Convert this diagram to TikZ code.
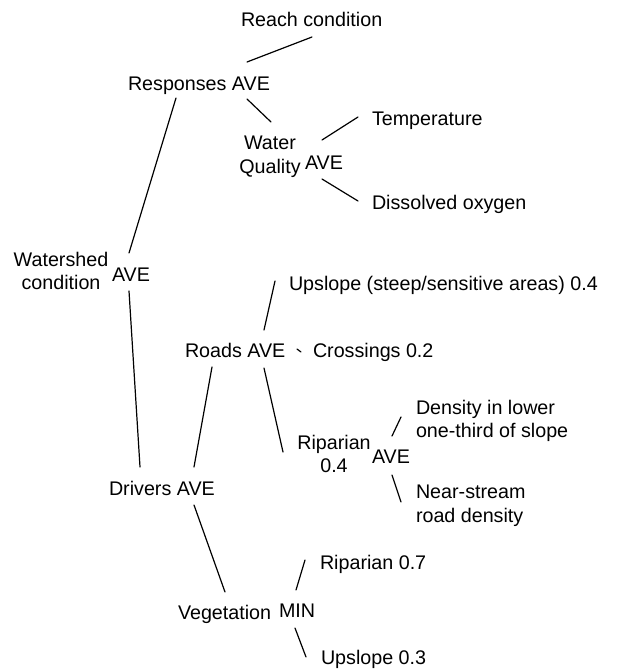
\documentclass[tikz,border=0pt]{standalone}
\usepackage{fontspec}
\setmainfont{Liberation Sans}
\begin{document}
\begin{tikzpicture}[x=1pt,y=-1pt,
  lbl/.style={inner sep=0pt,outer sep=0pt,font=\fontsize{19.7}{23.5}\selectfont,anchor=base west},
  lbl2/.style={lbl,anchor=north,align=center},
  lbl2l/.style={lbl,anchor=north west,align=left},
  conn/.style={line width=1.2pt,line cap=round}]
\useasboundingbox (0,0) rectangle (618,669);
% nodes
\node[lbl] (reach) at (241,27) {Reach condition};
\node[lbl] (resp) at (128,90) {Responses AVE};
\node[lbl2] (wq) at (270,136) {Water\\Quality};
\node[lbl] (wqave) at (305,169) {AVE};
\node[lbl] (temp) at (372,125) {Temperature};
\node[lbl] (diss) at (372,209) {Dissolved oxygen};
\node[lbl2] (ws) at (61,252) {Watershed\\condition};
\node[lbl] (wsave) at (112,281) {AVE};
\node[lbl] (up04) at (289,290) {Upslope (steep/sensitive areas) 0.4};
\node[lbl] (roads) at (185,357) {Roads AVE};
\node[lbl] (cross) at (313,357) {Crossings 0.2};
\node[lbl2l] (dens) at (416,400) {Density in lower\\one-third of slope};
\node[lbl2] (rip) at (334,435) {Riparian\\0.4};
\node[lbl] (ripave) at (372,463) {AVE};
\node[lbl2l] (near) at (416,485) {Near-stream\\road density};
\node[lbl] (drivers) at (109,495) {Drivers AVE};
\node[lbl] (rip07) at (320,569) {Riparian 0.7};
\node[lbl] (veg) at (178,619) {Vegetation};
\node[lbl] (vegmin) at (279,617) {MIN};
\node[lbl] (up03) at (321,664) {Upslope 0.3};
% connector ends
\coordinate (reach-b) at (312,37);  \coordinate (resp-t) at (247,62);
\coordinate (resp-br) at (247,99);  \coordinate (wq-t) at (271,122);
\coordinate (resp-bl) at (176,98);  \coordinate (ws-t) at (129,253);
\coordinate (wq-r1) at (322,140);   \coordinate (temp-l) at (358,117);
\coordinate (wq-r2) at (322,179);   \coordinate (diss-l) at (358,201);
\coordinate (ws-b) at (129,291);    \coordinate (drivers-t1) at (140,467);
\coordinate (roads-t) at (264,330); \coordinate (up04-l) at (275,281);
\coordinate (roads-r) at (297,349); \coordinate (cross-l) at (301,352);
\coordinate (roads-bl) at (212,367);\coordinate (drivers-t2) at (194,467);
\coordinate (roads-br) at (264,368);\coordinate (rip-t) at (283,452);
\coordinate (rip-r1) at (392,436);  \coordinate (dens-l) at (401,417);
\coordinate (rip-r2) at (392,475);  \coordinate (near-l) at (401,502);
\coordinate (drivers-b) at (194,505);\coordinate (veg-t) at (225,592);
\coordinate (min-t) at (296,590);   \coordinate (rip07-l) at (305,560);
\coordinate (min-b) at (295,628);   \coordinate (up03-l) at (306,657);
% connectors
\draw[conn] (reach-b) -- (resp-t);
\draw[conn] (resp-br) -- (wq-t);
\draw[conn] (resp-bl) -- (ws-t);
\draw[conn] (wq-r1) -- (temp-l);
\draw[conn] (wq-r2) -- (diss-l);
\draw[conn] (ws-b) -- (drivers-t1);
\draw[conn] (roads-t) -- (up04-l);
\draw[conn] (roads-r) -- (cross-l);
\draw[conn] (roads-bl) -- (drivers-t2);
\draw[conn] (roads-br) -- (rip-t);
\draw[conn] (rip-r1) -- (dens-l);
\draw[conn] (rip-r2) -- (near-l);
\draw[conn] (drivers-b) -- (veg-t);
\draw[conn] (min-t) -- (rip07-l);
\draw[conn] (min-b) -- (up03-l);
\end{tikzpicture}
\end{document}
